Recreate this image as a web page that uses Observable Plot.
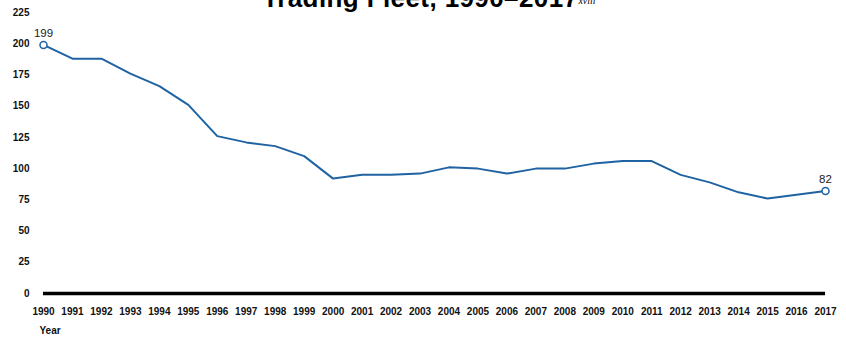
<!DOCTYPE html>
<html>
<head>
<meta charset="utf-8">
<script src="https://cdn.jsdelivr.net/npm/d3@7"></script>
<script src="https://cdn.jsdelivr.net/npm/@observablehq/plot@0.6"></script>
<style>
  body { margin: 0; background: #fff; font-family: "Liberation Sans", Arial, sans-serif; }
  #wrap { position: relative; width: 846px; height: 337px; overflow: hidden; }
  #title { position: absolute; top: -17px; left: 0; width: 846px; text-align: center; padding-left: 12px; box-sizing: border-box;
           font: bold 26px/30px "Liberation Sans", Arial, sans-serif; letter-spacing: 0.4px; color: #000; white-space: nowrap; }
  #title sup { font-size: 10px; font-weight: normal; font-family: "Liberation Serif", serif; font-style: italic; vertical-align: 3px; letter-spacing: 0; }
  #chart { position: absolute; top: 0; left: 0; }
</style>
</head>
<body>
<div id="wrap">
  <div id="chart"></div>
  <div id="title">Trading Fleet, 1990–2017<sup>xviii</sup></div>
</div>
<script>
const years = [1990,1991,1992,1993,1994,1995,1996,1997,1998,1999,2000,2001,2002,2003,2004,2005,2006,2007,2008,2009,2010,2011,2012,2013,2014,2015,2016,2017];
const vessels = [199,188,188,176,166,151,126,121,118,110,92,95,95,96,101,100,96,100,100,104,106,106,95,89,81,76,79,82];
const yTicks = [0,25,50,75,100,125,150,175,200,225];
const xLabel = "Year";

const data = years.map((y, i) => ({year: y, value: vessels[i]}));
const ends = [data[0], data[data.length - 1]];
const blue = "#1f63a3";

const chart = Plot.plot({
  width: 846,
  height: 337,
  marginTop: 12,
  marginBottom: 44,
  marginLeft: 43,
  marginRight: 21,
  style: {fontFamily: "'Liberation Sans', Arial, sans-serif", fontSize: "10px", background: "transparent"},
  x: {domain: [1990, 2017], label: null},
  y: {domain: [0, 225], label: null},
  marks: [
    Plot.axisY({ticks: yTicks, tickSize: 0, tickPadding: 14, fontWeight: "bold", fontSize: 10, fill: "#111"}),
    Plot.axisX({ticks: years, tickFormat: "d", tickSize: 0, tickPadding: 14, fontWeight: "bold", fontSize: 10, fill: "#111"}),
    Plot.text([xLabel], {frameAnchor: "bottom-left", dx: -4, dy: 40, text: d => d, fontWeight: "bold", fontSize: 10, fill: "#111", textAnchor: "start"}),
    Plot.ruleY([0], {stroke: "#000", strokeWidth: 3.5}),
    Plot.line(data, {x: "year", y: "value", stroke: blue, strokeWidth: 2}),
    Plot.dot(ends, {x: "year", y: "value", r: 3.5, stroke: blue, fill: "#fff", strokeWidth: 1.5}),
    Plot.text(ends, {x: "year", y: "value", text: d => String(d.value), dy: -12, fontSize: 11.5, fill: "#222"})
  ]
});
document.getElementById("chart").append(chart);
</script>
</body>
</html>
